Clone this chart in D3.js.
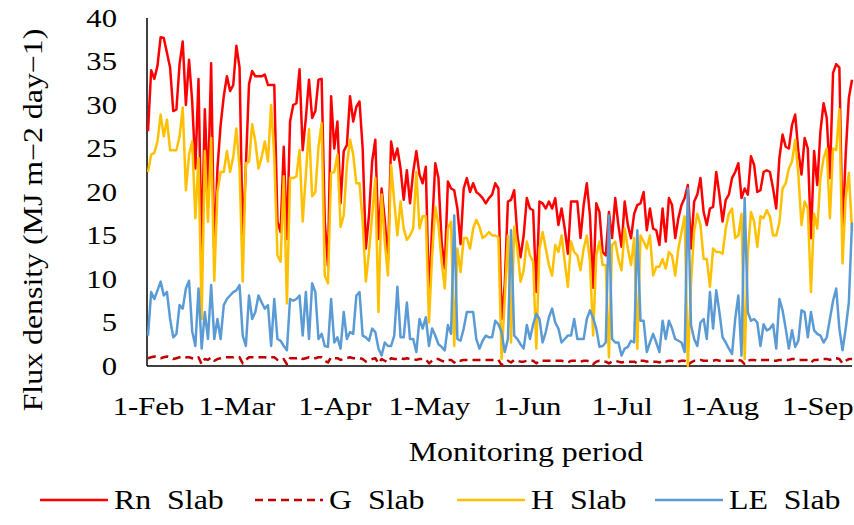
<!DOCTYPE html>
<html>
<head>
<meta charset="utf-8">
<script src="https://cdn.jsdelivr.net/npm/d3@7"></script>
<style>
  body { margin: 0; background: #fff; }
  svg { display: block; font-family: "Liberation Serif", "Times New Roman", serif; }
  text { white-space: pre; }
</style>
</head>
<body>
<svg id="chart" width="854" height="525"></svg>
<script>
// Daily series, 1-Feb to 12-Sep (MJ m-2 day-1)
const firstDay = new Date(2015, 1, 1);

const rnSlab = [
  27, 34, 33, 34.5, 37.8, 37.7, 36, 34.3, 29.3, 29.5,
  34.7, 37.3, 30, 35.2, 30.4, 22.7, 33, 13, 29.5, 20.2,
  34.8, 12.7, 22.7, 27.7, 31, 33.3, 31.6, 32.3, 36.8, 34.3,
  14.6, 23, 32.4, 33.9, 33.3, 33.3, 33.3, 33.5, 32.3, 32.3,
  32.3, 16.6, 15.4, 25.2, 14.6, 28.1, 30, 30.2, 34.1, 24.8,
  28.5, 32.9, 28.5, 29.3, 32.9, 33, 16.6, 11.5, 31, 25,
  28.1, 18.7, 24.7, 25.4, 31, 28.1, 29.8, 30.4, 25, 13.5,
  17.3, 23.5, 26, 14.6, 20.4, 16.8, 12, 25.8, 23.7, 25,
  22.7, 19.1, 22.5, 18.7, 22.3, 24.7, 22, 21, 22.9, 7.5,
  16, 23.3, 21.6, 14.3, 11.2, 21.2, 20.4, 20.2, 18.1, 14,
  20.4, 21.6, 20, 21, 20, 19.7, 19.3, 18.7, 19.3, 19.7,
  21, 20.4, 5.4, 9.3, 18.9, 19.1, 20.2, 15, 12.5, 15,
  19.3, 18.1, 17.9, 8.5, 18.9, 18.7, 18.1, 18.9, 18.1, 19.3,
  16.2, 18.1, 15.8, 12.9, 18.9, 18.9, 18.9, 14.7, 18.5, 21,
  17.3, 9, 18.7, 17.7, 13.1, 12.7, 17.7, 14.7, 19.3, 16.2,
  13.7, 18.9, 16.2, 14.7, 17.5, 18.5, 18.7, 20, 15.6, 18.1,
  15.8, 15.6, 13.9, 18.1, 14.3, 19.3, 18.5, 14.7, 17, 18.5,
  19.3, 20.8, 13.5, 18.9, 19.7, 21.6, 17.7, 16.2, 18.1, 18.3,
  22.3, 19.7, 16.6, 19.1, 19.7, 21.6, 22.3, 23.3, 19.3, 20.4,
  19.7, 24.1, 23.1, 20, 20.2, 22.3, 22.5, 22.3, 20.4, 18.1,
  23.9, 26.6, 25.2, 25, 27.7, 28.9, 24.7, 22, 26.2, 25,
  14.7, 24.7, 20.8, 27, 30.2, 28.5, 21.6, 33.7, 34.7, 34.3,
  15, 24.3, 30.8, 32.9
];

const gSlab = [
  0.9, 1.0, 1.1, 1.0, 0.9, 1.0, 1.1, 1.0, 0.8, 0.9,
  1.0, 1.1, 1.0, 1.0, 0.9, 0.8, 1.0, 0.2, 0.8, 0.7,
  1.0, 0.6, 0.8, 0.9, 1.0, 1.0, 1.0, 1.0, 1.1, 1.0,
  0.3, 0.7, 1.0, 1.0, 1.0, 1.0, 1.0, 1.0, 0.9, 1.0,
  1.0, 0.7, 0.6, 0.8, 0.2, 0.9, 0.9, 0.9, 1.0, 0.8,
  0.9, 1.0, 0.9, 0.9, 1.0, 1.0, 0.6, 0.4, 1.0, 0.9,
  0.9, 0.7, 0.8, 0.9, 1.0, 0.9, 0.9, 0.9, 0.8, 0.5,
  0.6, 0.8, 0.9, 0.3, 0.8, 0.6, 0.4, 0.9, 0.8, 0.8,
  0.9, 0.8, 0.9, 0.8, 0.8, 0.7, 0.8, 0.8, 0.8, 0.3,
  0.6, 0.8, 0.8, 0.6, 0.5, 0.7, 0.7, 0.4, 0.7, 0.6,
  0.7, 0.7, 0.7, 0.7, 0.7, 0.7, 0.7, 0.7, 0.7, 0.7,
  0.7, 0.7, 0.1, 0.3, 0.6, 0.4, 0.7, 0.6, 0.5, 0.5,
  0.6, 0.6, 0.6, 0.3, 0.6, 0.6, 0.6, 0.6, 0.6, 0.6,
  0.6, 0.6, 0.5, 0.4, 0.6, 0.6, 0.6, 0.5, 0.6, 0.6,
  0.5, 0.2, 0.5, 0.6, 0.5, 0.5, 0.3, 0.5, 0.6, 0.5,
  0.4, 0.5, 0.5, 0.5, 0.5, 0.3, 0.6, 0.6, 0.5, 0.6,
  0.5, 0.5, 0.4, 0.6, 0.5, 0.6, 0.6, 0.4, 0.5, 0.6,
  0.6, 0.1, 0.4, 0.6, 0.6, 0.7, 0.6, 0.6, 0.6, 0.6,
  0.7, 0.6, 0.6, 0.6, 0.6, 0.6, 0.6, 0.7, 0.6, 0.2,
  0.6, 0.7, 0.7, 0.6, 0.7, 0.7, 0.7, 0.7, 0.6, 0.6,
  0.7, 0.7, 0.7, 0.7, 0.8, 0.8, 0.7, 0.7, 0.7, 0.7,
  0.4, 0.7, 0.7, 0.8, 0.8, 0.8, 0.7, 0.9, 0.9, 0.8,
  0.3, 0.6, 0.8, 0.8
];

const hSlab = [
  22.3, 24.3, 24.5, 25.8, 28.9, 26.4, 28.3, 24.8, 24.8, 24.8,
  26.4, 29.7, 20.2, 24.3, 25.8, 17, 23.9, 5.4, 24.7, 16.6,
  26.2, 9.8, 20, 22.3, 22.3, 24.7, 22.3, 24, 27.3, 22.7,
  9.7, 23.3, 23.5, 27.8, 25.8, 22.7, 24, 25.8, 23.5, 30,
  24, 12.7, 12, 21.8, 7.2, 21.6, 21.6, 21.8, 24.8, 16.6,
  22, 27.2, 19.5, 20, 25.2, 27.9, 10.4, 9.5, 22.2, 22.3,
  24.3, 16, 17.3, 23.1, 26, 24.3, 21, 21, 16.6, 9.7,
  13.1, 17.3, 21.6, 6.2, 19.7, 14.3, 10.4, 23.1, 18.9, 15,
  18.9, 15.8, 14.5, 15, 15.8, 22.3, 15.8, 17.2, 17.2, 5,
  12.7, 18.3, 16.2, 12, 8.9, 15.8, 16.6, 2.3, 13.5, 10.8,
  14.7, 14.7, 13.5, 15.8, 16.8, 16, 14.7, 15, 15.4, 15,
  15, 14.8, 0.8, 7.7, 15, 2.7, 16, 13.5, 9.7, 11,
  14.3, 12.7, 12, 2, 13.5, 15.4, 13.5, 11.6, 10.4, 13.9,
  13.1, 15, 12, 9.1, 14.3, 13.1, 12.7, 11, 13.5, 15,
  12, 3.5, 12.7, 14.3, 11.6, 11.6, 1, 13.9, 14.3, 12.3,
  11, 15.8, 13.5, 11.6, 14.7, 2, 15, 14.3, 13.5, 15,
  10.4, 11.4, 11.4, 12.3, 11.2, 13.1, 12.7, 10.4, 13.5, 15.4,
  17.2, 0, 9.5, 15.5, 17.5, 16.2, 12.3, 12.3, 9.1, 13.5,
  13.1, 13.1, 12.9, 15.8, 17.5, 18.1, 14.7, 15, 17.5, 0.8,
  13, 17.7, 16.6, 13.7, 17.2, 17, 17.9, 17.2, 15, 15,
  16.5, 20.4, 21, 22.7, 23.5, 26, 22, 16.2, 18.9, 18.1,
  8.5, 17.5, 15.8, 21.6, 23.9, 25, 17, 25, 24.8, 29.5,
  11.8, 19.3, 22.2, 15.5
];

const leSlab = [
  3.5, 8.5, 7.7, 8.7, 9.7, 8.1, 8.5, 5.4, 3.3, 3.7,
  7, 6.6, 8.9, 9.8, 4, 2.3, 8.9, 2, 6.2, 3.1,
  9.3, 3.1, 5.4, 3.1, 7, 7.7, 8.1, 8.5, 8.7, 9.3,
  3.5, 2.3, 8.1, 5.4, 6.2, 8.1, 7.3, 6.6, 7, 2.3,
  7.7, 3.1, 2.9, 2.3, 1.8, 7.7, 7.5, 7.7, 8.1, 3.5,
  8.5, 3.1, 9.5, 8.5, 3.1, 3.7, 2.3, 2.2, 7.7, 2.7,
  3.3, 2, 6.2, 3.1, 3.9, 3.7, 8.1, 8.5, 3.5, 3.3,
  2.9, 4.3, 3.9, 2, 1.2, 2.7, 2.3, 2.3, 3.5, 9.1,
  3.3, 3.3, 7.3, 3.1, 3.1, 1.6, 5.4, 4.3, 5.6, 2.3,
  4.3, 3.5, 2.5, 2.2, 1.8, 4.7, 3.7, 17.3, 3.1, 2.9,
  4.3, 6.2, 6.2, 6.2, 3.1, 2, 2.9, 3.5, 3.3, 3.3,
  5.2, 4.8, 3.9, 1.6, 3.1, 15.6, 3.5, 3.1, 2.5, 2,
  4.7, 3.1, 4.8, 6, 5.4, 2.7, 3.9, 5.6, 6.6, 5,
  4.3, 2.7, 3.1, 3.5, 3.5, 5.4, 3.1, 3.1, 3.1, 5.4,
  6.4, 5.5, 4.3, 2.2, 2.3, 2.7, 17.3, 3.1, 2.7, 2.7,
  1.2, 2, 2.2, 2.9, 2.7, 15.6, 5.2, 5.2, 1.6, 2.7,
  3.7, 2.7, 1.6, 5.2, 3.1, 5.2, 4.3, 3.1, 2.9, 2.7,
  1.6, 20.4, 4.7, 3.1, 2.3, 5, 5.4, 3.1, 8.5, 4.3,
  8.7, 6.2, 3.3, 2.7, 2, 1.4, 5.4, 8.1, 1.2, 19.3,
  6.2, 5.2, 5.4, 5, 2.3, 4.8, 4.1, 4.3, 4.8, 2,
  7.7, 6.4, 4.3, 2, 4.1, 2.2, 2.9, 6.4, 6.2, 3.3,
  6.2, 4.1, 3.7, 3.5, 2.7, 3.3, 5.4, 7.5, 8.9, 4.3,
  1.8, 4.3, 7.3, 16.5
];

const seriesNames = ["Rn  Slab", "G  Slab", "H  Slab", "LE  Slab"];
const seriesColors = ["#ff0000", "#c00000", "#ffc000", "#5b9bd5"];
const seriesDash = [null, "8,5", null, null];
const seriesValues = [rnSlab, gSlab, hSlab, leSlab];

const yTicks = [0, 5, 10, 15, 20, 25, 30, 35, 40];
const monthTicks = [
  new Date(2015, 1, 1), new Date(2015, 2, 1), new Date(2015, 3, 1), new Date(2015, 4, 1),
  new Date(2015, 5, 1), new Date(2015, 6, 1), new Date(2015, 7, 1), new Date(2015, 8, 1)
];

// the text in the picture is drawn a little wide
const stretch = "scale(1.18,1)";

// one date per daily value
const days = d3.range(rnSlab.length).map(i => d3.timeDay.offset(firstDay, i));

const svg = d3.select("#chart");

const x = d3.scaleTime()
    .domain([days[0], days[days.length - 1]])
    .range([148, 852]);

const y = d3.scaleLinear()
    .domain([0, 40])
    .range([366, 18]);

// Axes (no tick marks, only labels)
const yAxis = svg.append("g")
    .attr("transform", "translate(147,0)")
    .call(d3.axisLeft(y).tickValues(yTicks).tickSize(0));

const xAxis = svg.append("g")
    .attr("transform", "translate(0,366)")
    .call(d3.axisBottom(x).tickValues(monthTicks).tickSize(0).tickPadding(31)
      .tickFormat(d3.timeFormat("%-d-%b")));

[yAxis, xAxis].forEach(g => {
  g.select(".domain").attr("stroke", "#000").attr("stroke-width", 1.5);
  g.selectAll("text")
      .attr("fill", "#000")
      .style("font-family", "'Liberation Serif', 'Times New Roman', serif")
      .style("font-size", "26px");
});
yAxis.selectAll("text").attr("x", null).attr("transform", "translate(-30,0) " + stretch);
xAxis.selectAll("text").attr("transform", stretch);
xAxis.select(".domain").attr("d", "M147,0H852");
yAxis.select(".domain").attr("d", "M0,18V366");

// Series lines
const line = d3.line()
    .x((d, i) => x(days[i]))
    .y(d => y(d));

seriesValues.forEach((vals, k) => {
  svg.append("path")
      .datum(vals)
      .attr("fill", "none")
      .attr("stroke", seriesColors[k])
      .attr("stroke-width", 2.5)
      .attr("stroke-linejoin", "round")
      .attr("stroke-dasharray", seriesDash[k])
      .attr("d", line);
});

// Axis titles
svg.append("text")
    .attr("transform", "translate(526,461) " + stretch)
    .attr("text-anchor", "middle")
    .style("font-size", "27px")
    .text("Monitoring period");

svg.append("text")
    .attr("transform", "translate(42,220) rotate(-90) " + stretch)
    .attr("text-anchor", "middle")
    .style("font-size", "27px")
    .text("Flux density (MJ m\u22122 day\u22121)");

// Legend
const legendX = [40, 255, 457, 655];
const legend = svg.append("g")
  .selectAll("g")
  .data(seriesNames)
  .enter().append("g")
    .attr("transform", (d, i) => `translate(${legendX[i]},500)`);

legend.append("line")
    .attr("x1", 0)
    .attr("x2", 68)
    .attr("stroke", (d, i) => seriesColors[i])
    .attr("stroke-width", 2.5)
    .attr("stroke-dasharray", (d, i) => seriesDash[i]);

legend.append("text")
    .attr("transform", "translate(74,9) " + stretch)
    .style("font-size", "27px")
    .text(d => d);
</script>
</body>
</html>
